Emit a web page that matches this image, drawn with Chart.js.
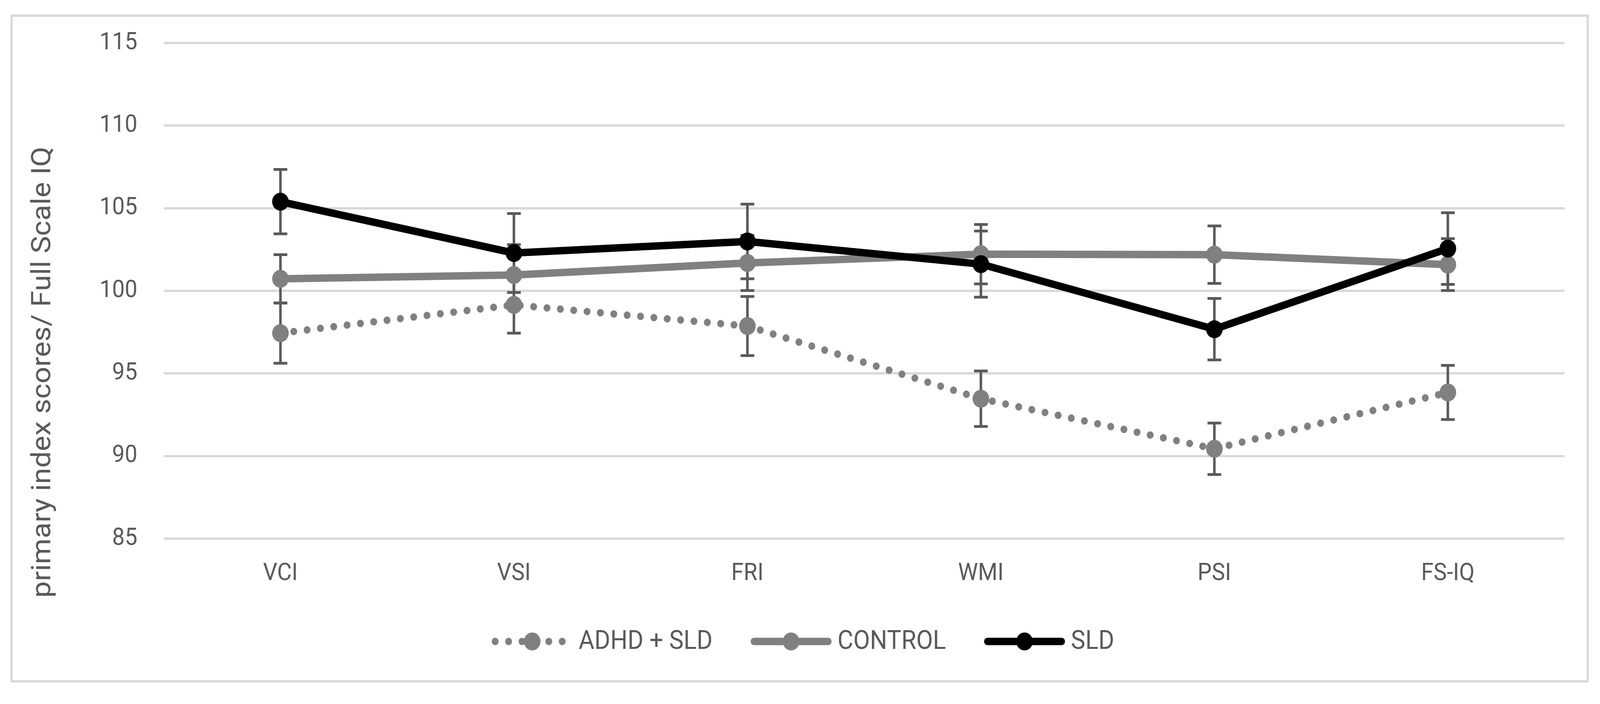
<!DOCTYPE html>
<html>
<head>
<meta charset="utf-8">
<script src="https://cdn.jsdelivr.net/npm/chart.js@4.4.1/dist/chart.umd.min.js"></script>
<style>
  html, body { margin: 0; padding: 0; background: #fff; overflow: hidden; }
  /* drawn at the reference size (4428x1801) and stretched to whatever the window is */
  #chart { display: block; width: 100vw !important; height: 100vh !important; }
</style>
</head>
<body>
<canvas id="chart" width="4428" height="1801" style="width:100vw;height:100vh"></canvas>
<script>
const categories = ['VCI', 'VSI', 'FRI', 'WMI', 'PSI', 'FS-IQ']
const seriesNames = ['ADHD + SLD', 'CONTROL', 'SLD']

const adhdSld = [97.44, 99.15, 97.87, 93.47, 90.44, 93.85]
const adhdSldErr = [1.82, 1.71, 1.79, 1.68, 1.56, 1.64]
const control = [100.73, 100.96, 101.69, 102.22, 102.19, 101.59]
const controlErr = [1.46, 1.84, 1.67, 1.80, 1.74, 1.57]
const sld = [105.40, 102.29, 102.99, 101.62, 97.68, 102.56]
const sldErr = [1.95, 2.39, 2.26, 2.00, 1.86, 2.17]

const yTicks = [85, 90, 95, 100, 105, 110, 115]
const yTitle = 'primary index scores/ Full Scale IQ'

const TEXT = '#595959'
const GRID = '#d9d9d9'
const GREY = '#808080'
const FONT = 'Roboto'

const errors = [adhdSldErr, controlErr, sldErr]


// ── plugins ──────────────────────────────────────────────────────────────────

const frame = {
    id: 'frame',
    beforeDraw(chart) {
        const ctx = chart.ctx
        ctx.save()
        ctx.fillStyle = '#fff'
        ctx.fillRect(0, 0, chart.width, chart.height)
        ctx.strokeStyle = GRID
        ctx.lineWidth = 6
        ctx.strokeRect(32, 40, 4362, 1703)
        ctx.restore()
    }
}

const errorBars = {
    id: 'errorBars',
    beforeDatasetsDraw(chart) {
        const ctx = chart.ctx
        const y = chart.scales.y
        ctx.save()
        ctx.strokeStyle = TEXT
        ctx.lineWidth = 7
        ctx.lineCap = 'butt'
        chart.data.datasets.forEach((ds, i) => {
            const meta = chart.getDatasetMeta(i)
            meta.data.forEach((pt, j) => {
                const v = ds.data[j], e = errors[i][j]
                const top = y.getPixelForValue(v + e)
                const bot = y.getPixelForValue(v - e)
                ctx.beginPath()
                ctx.moveTo(pt.x, top); ctx.lineTo(pt.x, bot)
                ctx.moveTo(pt.x - 19, top); ctx.lineTo(pt.x + 19, top)
                ctx.moveTo(pt.x - 19, bot); ctx.lineTo(pt.x + 19, bot)
                ctx.stroke()
            })
        })
        ctx.restore()
    }
}

const extras = {
    id: 'extras',
    afterDraw(chart) {
        const ctx = chart.ctx
        ctx.save()

        // y axis title
        ctx.fillStyle = TEXT
        ctx.font = `75px ${FONT}`
        ctx.translate(139, 952)
        ctx.rotate(-Math.PI / 2)
        ctx.textAlign = 'center'
        ctx.textBaseline = 'alphabetic'
        ctx.fillText(yTitle, 0, 0)
        ctx.restore()

        // legend
        ctx.save()
        ctx.font = `67px ${FONT}`
        const sample = 225, gapText = 16, gapItem = 105
        const widths = chart.data.datasets.map(ds => sample + gapText + ctx.measureText(ds.label).width)
        const total = widths.reduce((a, b) => a + b, 0) + gapItem * (widths.length - 1)
        let x = 2222 - total / 2
        const cy = 1641
        chart.data.datasets.forEach((ds, i) => {
            ctx.strokeStyle = ds.borderColor
            ctx.lineWidth = ds.borderWidth
            ctx.lineCap = 'round'
            ctx.setLineDash(ds.borderDash || [])
            ctx.beginPath()
            ctx.moveTo(x + 10, cy); ctx.lineTo(x + sample - 10, cy)
            ctx.stroke()
            ctx.setLineDash([])
            ctx.fillStyle = ds.pointBackgroundColor
            ctx.beginPath()
            ctx.arc(x + sample / 2, cy, ds.pointRadius, 0, Math.PI * 2)
            ctx.fill()
            ctx.fillStyle = TEXT
            ctx.textAlign = 'left'
            ctx.textBaseline = 'middle'
            ctx.fillText(ds.label, x + sample + gapText, cy + 2)
            x += widths[i] + gapItem
        })
        ctx.restore()
    }
}


// ── chart ────────────────────────────────────────────────────────────────────

const line = (label, data, color, order, dash) => ({
    label,
    data,
    borderColor: color,
    backgroundColor: color,
    borderWidth: 19,
    borderDash: dash,
    borderCapStyle: 'round',
    borderJoinStyle: 'round',
    pointRadius: 23,
    pointHoverRadius: 23,
    pointBackgroundColor: color,
    pointBorderColor: color,
    pointBorderWidth: 0,
    tension: 0,
    order,
})

new Chart(document.getElementById('chart'), {
    type: 'line',
    data: {
        labels: categories,
        datasets: [
            line(seriesNames[0], adhdSld, GREY, 2, [0.1, 37]),
            line(seriesNames[1], control, GREY, 1),
            line(seriesNames[2], sld, '#000000', 0),
        ]
    },
    options: {
        responsive: false,
        devicePixelRatio: 1,
        animation: false,
        events: [],
        layout: { padding: { left: 0, top: 110, right: 98, bottom: 0 } },
        plugins: { legend: { display: false }, tooltip: { enabled: false } },
        scales: {
            x: {
                offset: true,
                grid: { display: false },
                border: { display: false },
                ticks: { color: TEXT, font: { family: FONT, size: 62 }, padding: 45 },
                afterFit: s => { s.height = 423 },
            },
            y: {
                min: yTicks[0],
                max: yTicks[yTicks.length - 1],
                grid: { color: GRID, lineWidth: 6, drawTicks: false },
                border: { display: false },
                ticks: { stepSize: yTicks[1] - yTicks[0], color: TEXT, font: { family: FONT, size: 62 }, padding: 73 },
                afterFit: s => { s.width = 453 },
            }
        }
    },
    plugins: [frame, errorBars, extras]
})
</script>
</body>
</html>
